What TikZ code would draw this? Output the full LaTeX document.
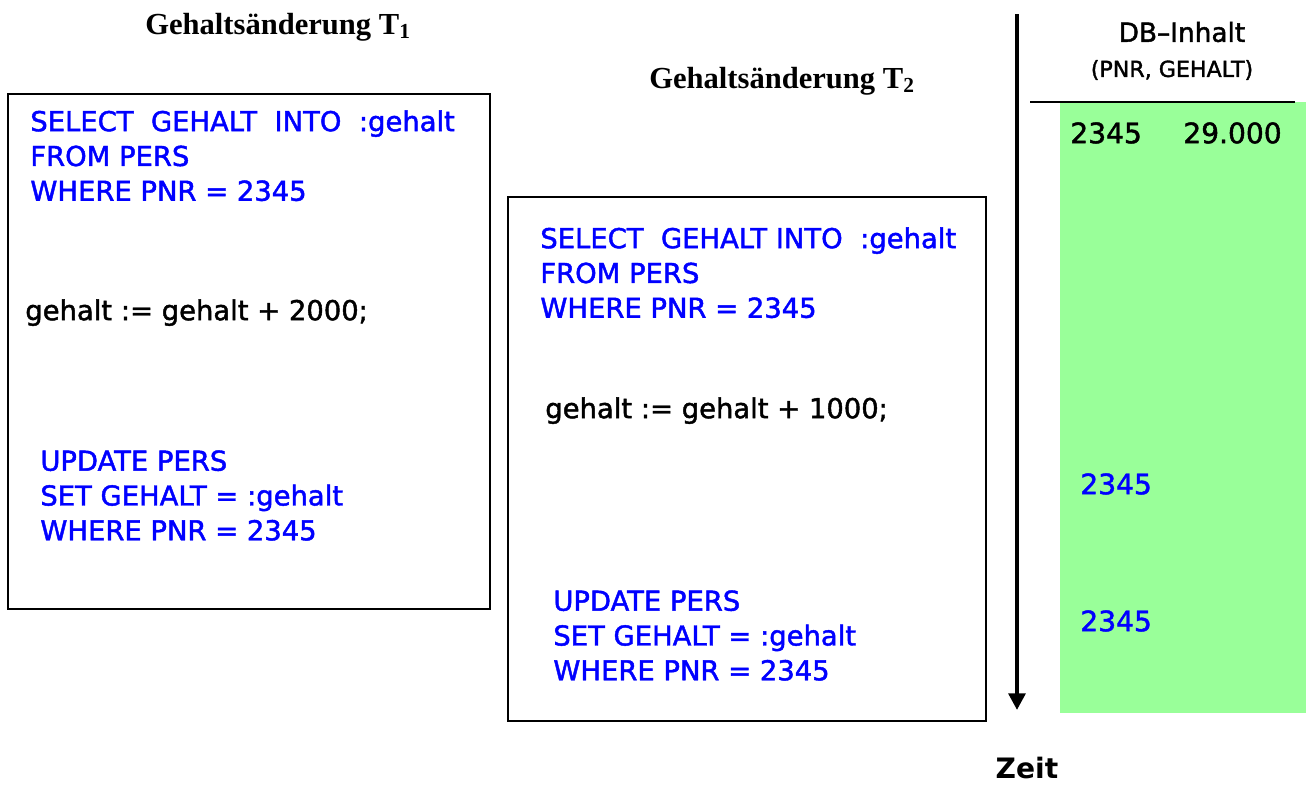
\documentclass[tikz,border=0pt]{standalone}
\usepackage{fontspec}
\setsansfont{DejaVu Sans}
\newfontfamily\titlefont{Liberation Serif}
\newfontfamily\sqlfont{DejaVu Sans}[FakeBold=1.6]
\usepackage{tikz}
\usetikzlibrary{arrows.meta}
\definecolor{sqlblue}{RGB}{0,0,255}
\definecolor{dbgreen}{RGB}{153,255,153}
\tikzstyle{title} = [font=\titlefont\bfseries\fontsize{17.4}{20}\selectfont,
    inner sep=0, anchor=base west]
\tikzstyle{sql} = [text=sqlblue, font=\sqlfont\fontsize{15.6}{19.8}\selectfont,
    align=left, anchor=north west, inner sep=0]
\tikzstyle{calc} = [sql, text=black]
\tikzstyle{txbox} = [draw, line width=0.9pt, rectangle]
\tikzstyle{dbval} = [sql, text=black, font=\sqlfont\fontsize{16}{19}\selectfont]

\begin{document}
\begin{tikzpicture}[x=0.02cm, y=-0.02cm]
    \useasboundingbox (0,0) rectangle (1306,785);

    % Headings of the two transactions
    \node [title] (t1) at (145,34) {Gehaltsänderung T\textsubscript{1}};
    \node [title] (t2) at (649,88) {Gehaltsänderung T\textsubscript{2}};

    % Box of T1
    \node [txbox, minimum width=9.64cm, minimum height=10.3cm] (box1) at (249,351.5) {};
    \node [sql] (sel1) at (30,110) {SELECT~~GEHALT~~INTO~~:gehalt\\FROM PERS\\WHERE PNR = 2345};
    \node [calc] (calc1) at (25,299) {gehalt :=~gehalt +~2000;};
    \node [sql] (upd1) at (40,450) {UPDATE PERS\\SET GEHALT = :gehalt\\WHERE PNR = 2345};

    % Box of T2
    \node [txbox, minimum width=9.56cm, minimum height=10.48cm] (box2) at (747,459) {};
    \node [sql] (sel2) at (540,227) {SELECT~~GEHALT INTO~~:gehalt\\FROM PERS\\WHERE PNR = 2345};
    \node [calc] (calc2) at (545,397) {gehalt :=~gehalt +~1000;};
    \node [sql] (upd2) at (553,590) {UPDATE PERS\\SET GEHALT = :gehalt\\WHERE PNR = 2345};

    % Time axis
    \coordinate (tstart) at (1017,14);
    \coordinate (tend) at (1017,710);
    \draw [line width=2.3pt, -{Triangle[length=9.5pt, width=9.5pt]}] (tstart) -- (tend);
    \node [font=\sffamily\bfseries\fontsize{16}{19}\selectfont] (zeit) at (1027,768) {Zeit};

    % DB content
    \node [font=\sqlfont\fontsize{15}{18}\selectfont] (db) at (1182,32) {DB–Inhalt};
    \node [font=\sqlfont\fontsize{12.6}{15}\selectfont] (cols) at (1172,70) {(PNR, GEHALT)};
    \node [fill=dbgreen, minimum width=4.92cm, minimum height=12.22cm, inner sep=0] (green) at (1183,407.5) {};
    \coordinate (hl) at (1030,102);
    \coordinate (hr) at (1295,102);
    \draw [line width=1.7pt] (hl) -- (hr);

    % Values in the DB
    \node [dbval] (pnr0) at (1070,122) {2345};
    \node [dbval] (geh0) at (1183,122) {29.000};
    \node [dbval, text=sqlblue] (pnr1) at (1080,473) {2345};
    \node [dbval, text=sqlblue] (pnr2) at (1080,610) {2345};
\end{tikzpicture}
\end{document}
